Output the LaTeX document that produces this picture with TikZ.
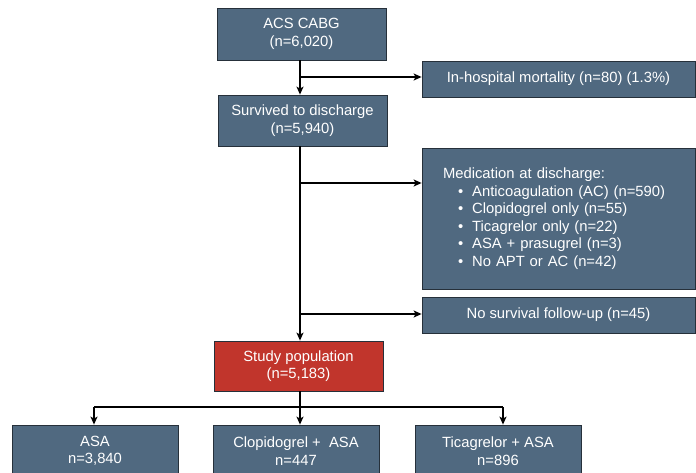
\documentclass[tikz,border=0pt]{standalone}
\usepackage{fontspec}
\setmainfont{Liberation Sans}
\usetikzlibrary{arrows.meta,shadows}
\definecolor{boxblue}{RGB}{80,105,128}
\definecolor{boxred}{RGB}{193,53,44}
\definecolor{boxedge}{RGB}{38,48,58}
\begin{document}
\begin{tikzpicture}[x=1pt,y=-1pt,
  fbox/.style={draw=boxedge, line width=0.8pt, fill=boxblue, text=white,
    font=\fontsize{14.8}{17.5}\selectfont, align=center, inner sep=0pt,
    drop shadow={shadow xshift=1.2pt, shadow yshift=-1.2pt, opacity=0.3, fill=black}},
  conn/.style={line width=1.3pt, -{Stealth[length=8pt,width=7pt,inset=2pt]}},
  plain/.style={line width=1.3pt}]
\useasboundingbox (0,0) rectangle (696,472);
\clip (0,0) rectangle (696,472);
\node[fbox, minimum width=169pt, minimum height=52pt] (acs) at (301.5,34) {ACS CABG\\(n=6,020)};
\node[fbox, minimum width=169pt, minimum height=51pt] (surv) at (302.5,120.5) {Survived to discharge\\(n=5,940)};
\node[fbox, minimum width=273pt, minimum height=36pt] (mort) at (558.5,79) {In-hospital mortality (n=80) (1.3\%)};
\node[fbox, minimum width=273pt, minimum height=141pt, text width=231pt, align=left] (med) at (558.5,218.5)
 {Medication at discharge:\\
  \hspace*{15pt}\textbullet\hspace{9pt}Anticoagulation (AC) (n=590)\\
  \hspace*{15pt}\textbullet\hspace{9pt}Clopidogrel only (n=55)\\
  \hspace*{15pt}\textbullet\hspace{9pt}Ticagrelor only (n=22)\\
  \hspace*{15pt}\textbullet\hspace{9pt}ASA + prasugrel (n=3)\\
  \hspace*{15pt}\textbullet\hspace{9pt}No APT or AC (n=42)};
\node[fbox, minimum width=273pt, minimum height=36pt] (nofu) at (558.5,315) {No survival follow-up (n=45)};
\node[fbox, fill=boxred, minimum width=169pt, minimum height=50pt] (study) at (298.5,366) {Study population\\(n=5,183)};
\node[fbox, minimum width=166pt, minimum height=52pt] (asa) at (95,451) {ASA\\n=3,840};
\node[fbox, minimum width=166pt, minimum height=52pt] (clop) at (296,451) {Clopidogrel +\ \ ASA\\n=447};
\node[fbox, minimum width=166pt, minimum height=52pt] (tica) at (498,451) {Ticagrelor + ASA\\n=896};
\coordinate (b1) at (300,77);
\coordinate (b2) at (300,183);
\coordinate (b3) at (300,314);
\coordinate (split) at (300,407);
\coordinate (sl) at (94,407);
\coordinate (sr) at (503,407);
\draw[conn] (acs.south -| b1) -- (surv.north -| b1);
\draw[conn] (b1) -- (mort.west |- b1);
\draw[conn] (surv.south -| b1) -- (study.north -| b1);
\draw[conn] (b2) -- (med.west |- b2);
\draw[conn] (b3) -- (nofu.west |- b3);
\draw[plain] (study.south -| b1) -- (split);
\draw[plain] (sl) -- (sr);
\draw[conn] (sl) -- (asa.north -| sl);
\draw[conn] (split) -- (clop.north -| split);
\draw[conn] (sr) -- (tica.north -| sr);
\end{tikzpicture}
\end{document}
